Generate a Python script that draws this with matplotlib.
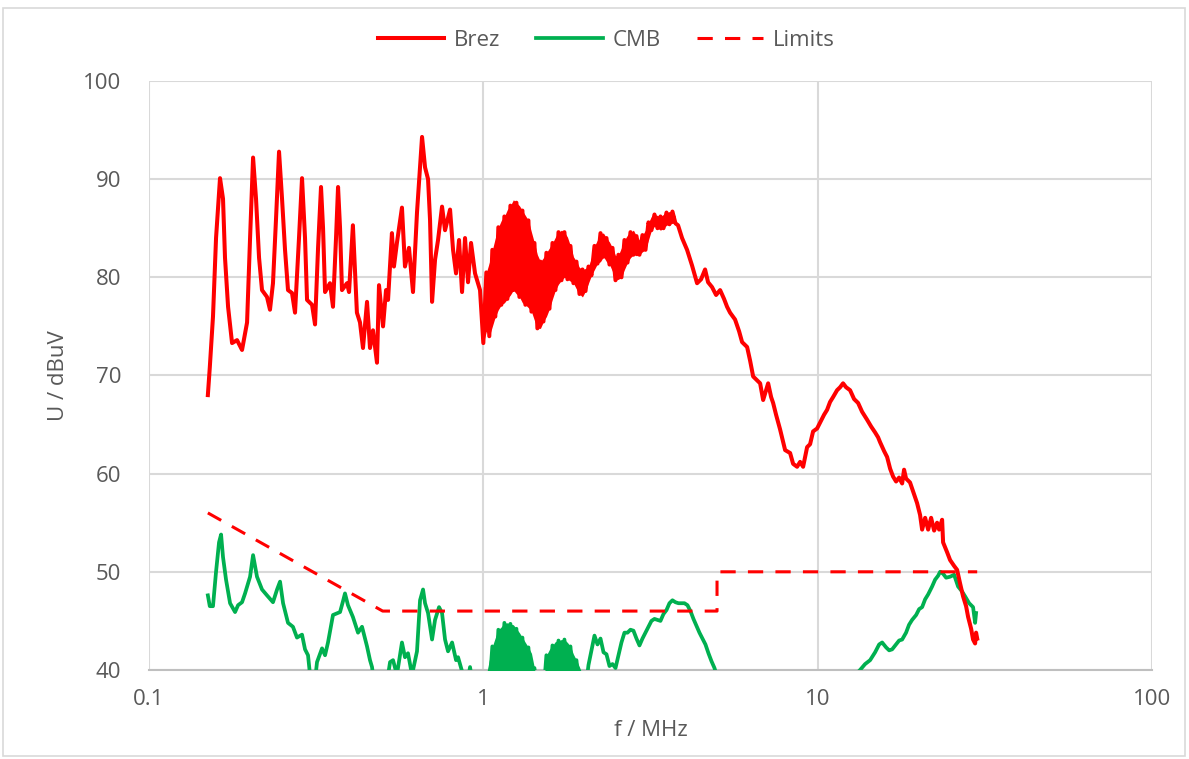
import numpy as np
import matplotlib
matplotlib.use("Agg")
import matplotlib.pyplot as plt
from matplotlib.patches import Rectangle

# ------------------------------------------------------------------
# Conducted emission spectrum: measured traces and limit line
# ------------------------------------------------------------------

# Brez, 0.15 - 1 MHz
brez_low_f = [
    0.150, 0.152, 0.1554, 0.1587, 0.1631, 0.1665, 0.1688, 0.1724, 0.1772, 0.1834,
    0.1898, 0.1965, 0.2006, 0.2048, 0.2090, 0.2134, 0.2178, 0.2254, 0.2301, 0.2349,
    0.2399, 0.2449, 0.2500, 0.2552, 0.2605, 0.2678, 0.2734, 0.2810, 0.2869, 0.2929,
    0.2970, 0.3074, 0.3138, 0.3204, 0.3270, 0.3316, 0.3362, 0.3478, 0.3551, 0.3626,
    0.3677, 0.3728, 0.3778, 0.3911, 0.3966, 0.4073, 0.4187, 0.4277, 0.4366, 0.4489,
    0.4582, 0.4678, 0.4808, 0.4875, 0.5012, 0.5117, 0.5188, 0.5329, 0.5403, 0.5515,
    0.5710, 0.5830, 0.5993, 0.6161, 0.6333, 0.6557, 0.6694, 0.6834, 0.6929, 0.7025,
    0.7171, 0.7321, 0.7525, 0.7682, 0.7952, 0.8118, 0.8287, 0.8460, 0.8636, 0.8816,
    0.9000, 0.9188, 0.9445, 0.9775,
]
brez_low_u = [
    68.0, 70.8, 76.0, 84.0, 90.1, 88.0, 82.0, 77.0, 73.3, 73.6,
    72.6, 75.4, 84.0, 92.2, 88.0, 82.0, 78.7, 78.0, 76.7, 79.4,
    86.0, 92.8, 88.0, 82.8, 78.7, 78.4, 76.4, 84.0, 90.1, 84.0,
    77.7, 77.2, 75.2, 83.0, 89.2, 85.0, 78.5, 79.4, 77.0, 84.0,
    89.2, 85.0, 78.7, 79.4, 78.5, 85.3, 76.4, 75.4, 72.8, 77.5,
    72.8, 74.6, 71.3, 79.2, 75.0, 78.7, 77.7, 84.5, 81.1, 83.5,
    87.1, 81.1, 83.0, 78.5, 86.6, 94.3, 91.2, 90.0, 85.8, 77.5,
    81.8, 83.8, 87.2, 84.8, 86.9, 82.8, 80.4, 83.8, 78.5, 84.0,
    79.5, 83.5, 80.4, 78.7,
]

# Brez, 1 - 3.8 MHz: dense ripple, upper and lower envelope
brez_band_f = [
    1.000, 1.021, 1.042, 1.064, 1.086, 1.109, 1.132, 1.156, 1.180, 1.205,
    1.230, 1.256, 1.282, 1.309, 1.336, 1.364, 1.393, 1.422, 1.451, 1.482,
    1.513, 1.544, 1.577, 1.610, 1.643, 1.678, 1.713, 1.748, 1.785, 1.822,
    1.860, 1.899, 1.939, 1.979, 2.021, 2.063, 2.106, 2.150, 2.195, 2.241,
    2.288, 2.335, 2.384, 2.434, 2.485, 2.536, 2.589, 2.643, 2.699, 2.755,
    2.812, 2.871, 2.931, 2.992, 3.055, 3.118, 3.183, 3.250, 3.318, 3.387,
    3.458, 3.530, 3.603, 3.678, 3.755,
]
brez_band_hi = [
    79.0, 80.5, 81.5, 82.8, 84.0, 85.1, 85.8, 86.2, 86.9, 87.3,
    87.9, 87.6, 87.3, 86.8, 86.3, 85.8, 84.6, 83.5, 82.3, 81.6,
    82.0, 82.5, 83.0, 83.5, 84.1, 84.6, 84.8, 84.6, 84.1, 83.2,
    82.1, 81.6, 81.0, 80.8, 80.9, 81.1, 82.0, 83.2, 83.8, 84.5,
    84.5, 84.0, 83.6, 83.0, 82.2, 82.3, 83.0, 83.8, 84.3, 84.6,
    84.8, 84.2, 83.8, 84.3, 84.8, 85.6, 86.2, 86.4, 86.3, 86.2,
    86.4, 86.6, 86.7, 86.7, 86.2,
]
brez_band_lo = [
    73.3, 74.5, 74.0, 75.0, 76.0, 76.7, 77.2, 77.4, 77.8, 78.2,
    78.7, 78.3, 78.0, 77.4, 77.2, 76.9, 76.5, 75.6, 74.8, 74.8,
    75.5, 76.0, 76.8, 77.8, 78.7, 79.3, 79.7, 80.0, 79.8, 79.6,
    79.4, 78.8, 78.3, 78.0, 78.6, 79.4, 80.2, 80.8, 81.4, 81.6,
    82.1, 81.6, 81.3, 80.6, 79.7, 79.8, 80.0, 80.8, 81.5, 82.0,
    82.3, 82.2, 82.3, 82.6, 82.8, 83.8, 84.8, 85.2, 85.0, 84.8,
    85.0, 85.3, 85.4, 85.5, 85.5,
]

# Brez, 3.8 - 30 MHz
brez_high_f = [
    3.823, 3.930, 4.068, 4.210, 4.358, 4.480, 4.605, 4.701, 4.832, 4.968,
    5.107, 5.248, 5.358, 5.470, 5.661, 5.821, 5.942, 6.151, 6.280, 6.412,
    6.591, 6.728, 6.869, 7.012, 7.110, 7.257, 7.358, 7.509, 7.720, 7.991,
    8.271, 8.444, 8.679, 8.861, 9.046, 9.298, 9.491, 9.689, 9.960, 10.17,
    10.45, 10.67, 10.89, 11.12, 11.43, 11.67, 11.91, 12.16, 12.50, 12.85,
    13.21, 13.58, 14.05, 14.45, 14.85, 15.16, 15.37, 15.80, 16.13, 16.47,
    16.81, 17.16, 17.52, 17.89, 18.13, 18.38, 18.64, 18.89, 19.29, 19.83,
    20.24, 20.53, 20.96, 21.40, 21.84, 22.30, 22.76, 23.08, 23.56, 23.72,
    24.38, 24.89, 25.59, 26.12, 26.67, 27.22, 27.79, 28.18, 28.77, 29.16,
    29.57, 29.77, 30.0,
]
brez_high_u = [
    85.3, 84.0, 82.8, 81.2, 79.4, 79.8, 80.8, 79.5, 79.0, 78.2,
    78.7, 77.8, 77.0, 76.4, 75.7, 74.5, 73.4, 72.9, 71.5, 69.9,
    69.5, 69.2, 67.5, 68.5, 69.2, 67.8, 67.2, 66.0, 64.5, 62.4,
    62.1, 61.0, 60.7, 61.2, 60.7, 62.7, 63.0, 64.3, 64.6, 65.2,
    66.0, 66.5, 67.3, 67.8, 68.5, 68.8, 69.2, 68.8, 68.5, 67.6,
    67.2, 66.3, 65.5, 64.8, 64.2, 63.7, 63.2, 62.3, 61.7, 60.5,
    59.7, 59.2, 59.6, 59.0, 60.4, 59.5, 59.3, 59.1, 58.2, 57.0,
    55.8, 54.3, 55.5, 54.3, 55.5, 54.2, 55.0, 54.3, 55.3, 53.0,
    52.0, 51.2, 50.6, 50.2, 48.8, 47.5, 46.5, 45.4, 44.2, 43.1,
    42.7, 43.8, 43.2,
]

# CMB, 0.15 - 1 MHz
cmb_low_f = [
    0.150, 0.152, 0.1554, 0.1587, 0.1620, 0.1643, 0.1665, 0.1700, 0.1748, 0.1809,
    0.1847, 0.1898, 0.1938, 0.2006, 0.2048, 0.2104, 0.2178, 0.2254, 0.2349, 0.2416,
    0.2466, 0.2518, 0.2605, 0.2695, 0.2771, 0.2869, 0.2929, 0.2990, 0.3053, 0.3117,
    0.3181, 0.3293, 0.3362, 0.3431, 0.3551, 0.3728, 0.3804, 0.3857, 0.3937, 0.4073,
    0.4219, 0.4337, 0.4489, 0.4582, 0.4646, 0.4743, 0.5082, 0.5261, 0.5370, 0.5515,
    0.5710, 0.5830, 0.5953, 0.6119, 0.6333, 0.6467, 0.6602, 0.6694, 0.6834, 0.7025,
    0.7171, 0.7372, 0.7525, 0.7682, 0.7843, 0.8064, 0.8287, 0.8402, 0.8697, 0.8940,
    0.9126, 0.9380, 0.9910,
]
cmb_low_u = [
    47.6, 46.5, 46.5, 50.0, 53.0, 53.8, 51.5, 49.2, 46.8, 45.9,
    46.6, 46.9, 47.8, 49.5, 51.7, 49.5, 48.2, 47.6, 46.9, 48.2,
    49.0, 46.8, 44.8, 44.4, 43.3, 43.6, 42.1, 41.5, 38.5, 38.0,
    40.8, 42.2, 41.5, 42.8, 45.6, 45.9, 47.0, 47.8, 46.6, 45.4,
    43.8, 44.4, 42.4, 41.0, 40.3, 38.0, 37.5, 40.8, 41.0, 39.5,
    42.8, 41.3, 41.7, 39.5, 41.9, 47.1, 48.2, 46.8, 45.8, 43.1,
    45.1, 46.4, 45.8, 43.1, 41.9, 42.8, 41.0, 41.3, 39.5, 38.5,
    40.3, 37.5, 37.5,
]

# CMB, 1 - 2 MHz: dense ripple, upper and lower envelope
cmb_band_f = [
    1.021, 1.042, 1.064, 1.086, 1.109, 1.132, 1.156, 1.180, 1.205, 1.230,
    1.256, 1.282, 1.309, 1.336, 1.364, 1.393, 1.422, 1.451, 1.482, 1.513,
    1.544, 1.577, 1.610, 1.643, 1.678, 1.713, 1.748, 1.785, 1.822, 1.860,
    1.899, 1.939, 1.979,
]
cmb_band_hi = [
    39.5, 41.0, 42.4, 43.3, 44.1, 44.4, 44.8, 44.8, 44.7, 44.6,
    44.2, 43.8, 43.3, 42.8, 42.3, 41.7, 40.2, 38.5, 38.0, 38.5,
    41.5, 42.1, 42.5, 42.9, 43.0, 43.1, 43.1, 42.8, 42.4, 41.6,
    41.0, 40.3, 39.5,
]
cmb_band_lo = [
    38.0, 38.0, 38.0, 38.0, 38.0, 38.0, 38.0, 38.0, 38.0, 38.0,
    38.0, 38.0, 38.0, 38.0, 38.0, 38.0, 38.0, 37.5, 37.5, 37.5,
    38.0, 38.5, 39.0, 39.5, 39.5, 39.5, 39.5, 39.5, 39.0, 38.5,
    38.0, 38.0, 38.0,
]

# CMB, 2 - 30 MHz
cmb_high_f = [
    2.021, 2.063, 2.106, 2.150, 2.195, 2.241, 2.288,
    2.335, 2.384, 2.434, 2.485, 2.536, 2.589, 2.643, 2.699, 2.755, 2.812,
    2.871, 2.931, 2.992, 3.055, 3.118, 3.183, 3.250, 3.318, 3.387, 3.458,
    3.530, 3.603, 3.678, 3.755, 3.834, 3.914, 3.995, 4.079, 4.164, 4.251,
    4.340, 4.430, 4.523, 4.617, 4.714, 4.812, 4.913, 5.015, 5.120,
    7.0, 11.0, 12.94, 13.39, 13.86, 14.35, 14.85, 15.27, 15.59, 16.02,
    16.36, 16.70, 17.16, 17.52, 17.89, 18.38, 18.76, 19.16, 19.70, 20.11,
    20.53, 20.96, 21.40, 21.99, 22.45, 22.92, 23.24, 23.72, 24.22, 24.89,
    25.59, 26.30, 27.03, 27.60, 28.38, 29.16, 29.57, 29.77,
]
cmb_high_u = [
    38.0, 40.5, 42.0, 43.5, 42.6, 43.2, 41.8,
    41.6, 40.4, 40.6, 40.2, 41.5, 42.8, 43.8, 43.8, 44.1, 44.0,
    43.2, 42.5, 43.2, 43.8, 44.4, 45.0, 45.2, 45.1, 45.0, 45.7,
    46.1, 46.8, 47.1, 46.9, 46.8, 46.8, 46.8, 46.6, 46.0, 45.2,
    44.5, 43.8, 43.2, 42.6, 41.7, 40.9, 40.2, 39.2, 38.0,
    35.0, 36.0, 39.5, 40.0, 40.6, 41.0, 41.8, 42.6, 42.8, 42.3,
    42.0, 42.1, 42.6, 43.0, 43.1, 43.8, 44.6, 45.1, 45.6, 46.2,
    46.4, 47.2, 47.7, 48.5, 49.2, 49.6, 50.0, 49.8, 49.4, 49.5,
    49.7, 48.5, 48.0, 47.5, 46.8, 46.4, 44.8, 45.8,
]

# average limit line (stepped at 0.5 and 5 MHz)
limit_f = [0.15, 0.5, 5.0, 5.0, 30.0]
limit_u = [56.0, 46.0, 46.0, 50.0, 50.0]

x_ticks = [0.1, 1, 10, 100]
x_labels = ["0.1", "1", "10", "100"]
y_ticks = [40, 50, 60, 70, 80, 90, 100]

TXT = "#595959"
GRID = "#D9D9D9"
RED = "#FF0000"
GREEN = "#00B050"
FS = 16


def ripple(hi, lo, start_high):
    # walk the envelope: alternate between upper and lower value
    hi = np.asarray(hi)
    lo = np.asarray(lo)
    idx = np.arange(len(hi))
    if start_high:
        return np.where(idx % 2 == 0, hi, lo)
    return np.where(idx % 2 == 0, lo, hi)


brez_f = np.concatenate([brez_low_f, brez_band_f, brez_high_f])
brez_u = np.concatenate([brez_low_u, ripple(brez_band_hi, brez_band_lo, False),
                         brez_high_u])
cmb_f = np.concatenate([cmb_low_f, cmb_band_f, cmb_high_f])
cmb_u = np.concatenate([cmb_low_u, ripple(cmb_band_hi, cmb_band_lo, True),
                        cmb_high_u])

plt.rcParams["font.family"] = ["Open Sans", "DejaVu Sans"]

fig = plt.figure(figsize=(11.89, 7.59), dpi=100)
ax = fig.add_axes([0.1253, 0.1173, 0.8436, 0.776])

ax.fill_between(cmb_band_f, cmb_band_lo, cmb_band_hi, color=GREEN, lw=0,
                zorder=3)
ax.plot(cmb_f, cmb_u, color=GREEN, lw=2.7, label="CMB", zorder=3)
ax.fill_between(brez_band_f, brez_band_lo, brez_band_hi, color=RED, lw=0,
                zorder=4)
ax.plot(brez_f, brez_u, color=RED, lw=2.9, label="Brez", zorder=4)
ax.plot(limit_f, limit_u, color=RED, lw=2.2, ls=(0, (5, 4)),
        label="Limits", zorder=5)

ax.set_xscale("log")
ax.set_xlim(0.1, 100)
ax.set_ylim(40, 100)
ax.set_xticks(x_ticks)
ax.set_xticklabels(x_labels)
ax.set_yticks(y_ticks)
ax.minorticks_off()
ax.tick_params(length=0, labelsize=FS, labelcolor=TXT)
ax.tick_params(axis="x", pad=14)
ax.tick_params(axis="y", pad=20)
ax.grid(True, color=GRID, lw=1.5)
ax.set_axisbelow(True)
for side in ["left", "right", "top"]:
    ax.spines[side].set_visible(False)
ax.spines["bottom"].set_color("#BFBFBF")
ax.spines["bottom"].set_linewidth(1.5)

ax.set_xlabel("f / MHz", fontsize=FS, color=TXT, labelpad=7)
ax.set_ylabel("U / dBuV", fontsize=FS, color=TXT, labelpad=10)

# legend order: Brez, CMB, Limits
h, l = ax.get_legend_handles_labels()
order = [1, 0, 2]
fig.legend([h[i] for i in order], [l[i] for i in order],
           loc="center", bbox_to_anchor=(0.51, 0.947), ncol=3, frameon=False,
           fontsize=FS, labelcolor=TXT, handlelength=3.0, handletextpad=0.45,
           columnspacing=1.6)

# thin frame round the chart
fig.patches.append(Rectangle((0.0025, 0.004), 0.9945, 0.985,
                             transform=fig.transFigure, fill=False,
                             edgecolor=GRID, lw=1.2))

fig.savefig("out.png", dpi=100)
